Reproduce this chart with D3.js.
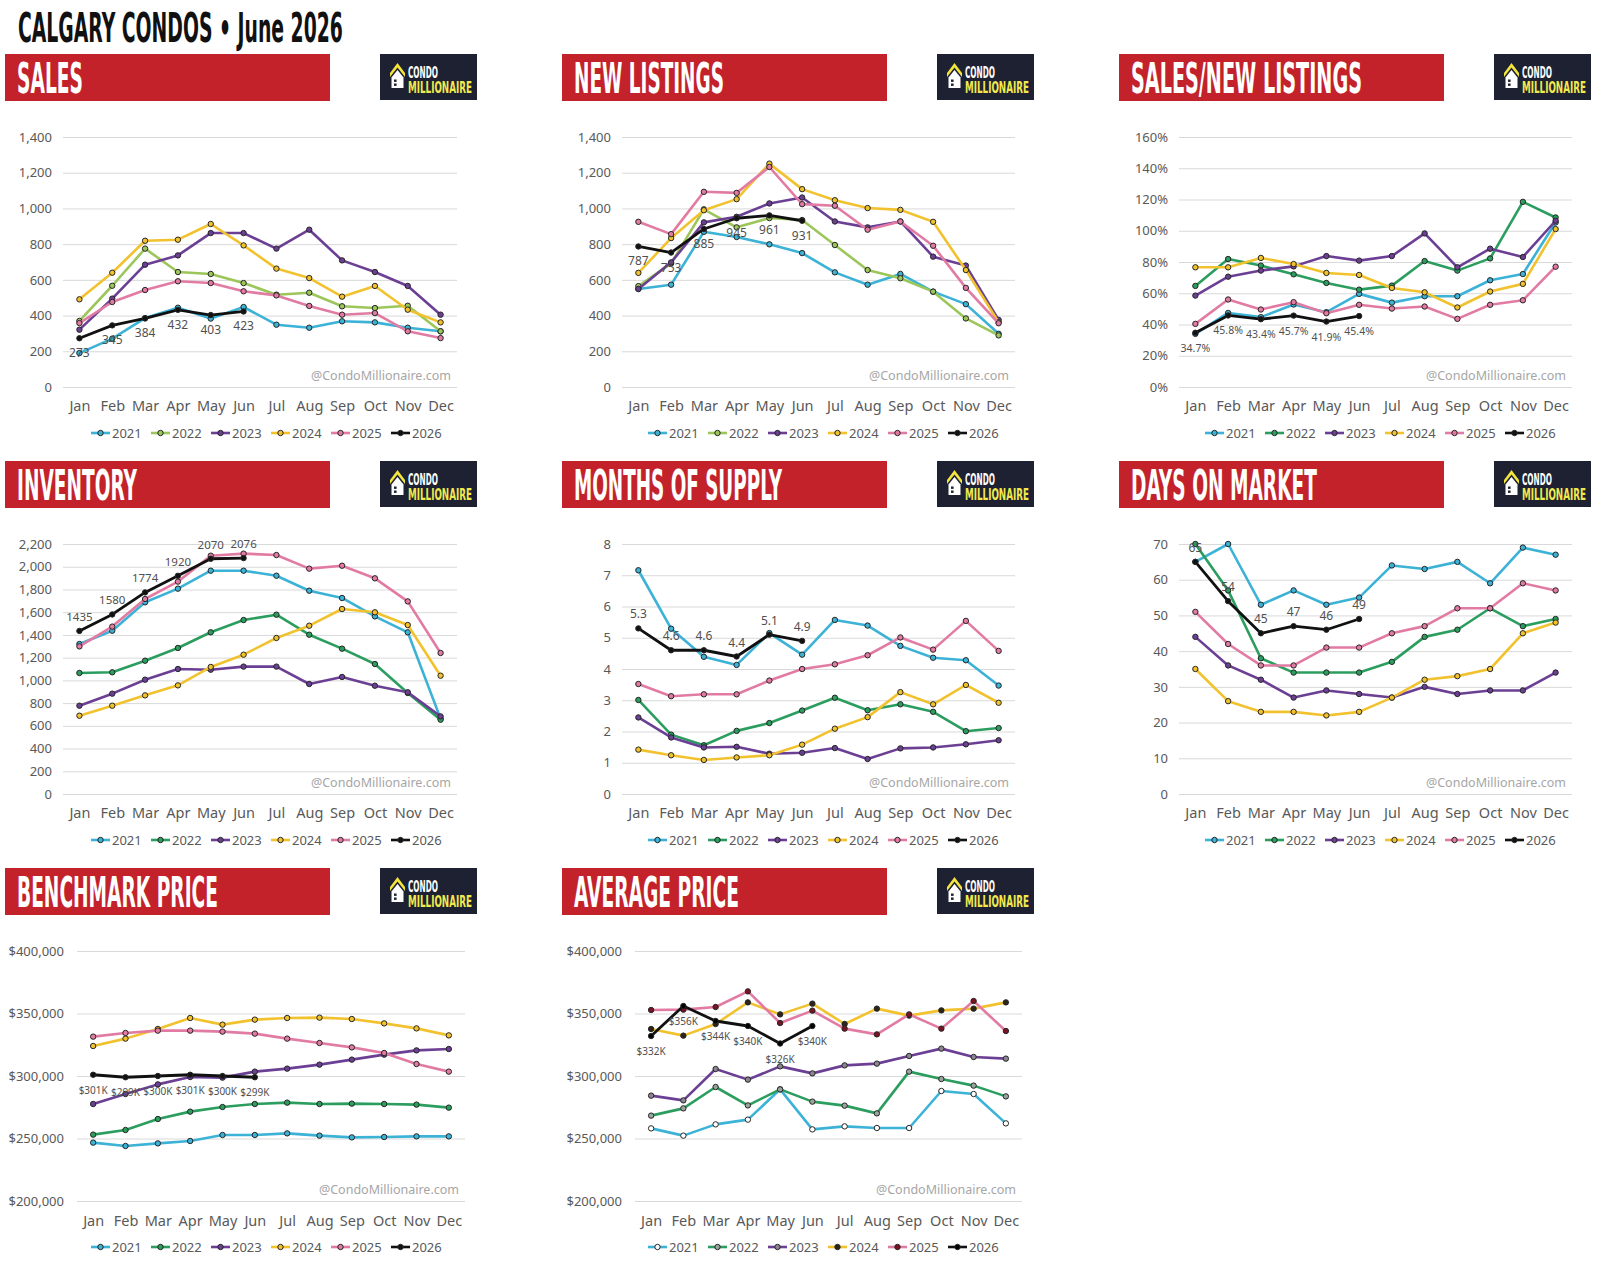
<!DOCTYPE html>
<html><head><meta charset="utf-8">
<script src="https://cdn.jsdelivr.net/npm/d3@7"></script>
<style>body{margin:0;background:#fff}svg{display:block}</style>
</head><body>
<svg id="c" width="1610" height="1281"></svg>
<script>
const months = ["Jan","Feb","Mar","Apr","May","Jun","Jul","Aug","Sep","Oct","Nov","Dec"];
const years = ["2021","2022","2023","2024","2025","2026"];

const salesSeries = [
  [190,271,386,444,383,448,349,332,368,362,332,312],
  [370,567,775,644,633,582,517,528,452,442,455,312],
  [321,495,685,737,862,862,775,881,709,644,566,405],
  [491,640,819,825,913,793,663,610,506,566,433,362],
  [358,476,543,592,582,536,513,454,405,414,312,274],
  [273,345,384,432,403,423]
];
const newListingsSeries = [
  [549,573,869,840,799,750,642,573,633,534,464,298],
  [565,692,995,894,946,935,795,655,609,534,384,289],
  [549,698,922,953,1028,1061,927,894,927,730,680,376],
  [639,834,990,1052,1251,1108,1046,1002,992,925,655,363],
  [925,856,1093,1087,1232,1024,1015,881,927,791,555,357],
  [787,753,885,945,961,931]
];
const salesToListingsSeries = [
  [34.0,47.4,44.7,52.8,47.9,59.6,54.0,58.1,58.1,68.3,72.3,105.3],
  [64.7,81.9,77.7,72.1,66.6,62.3,64.9,80.6,74.5,82.3,118.5,108.5],
  [58.5,70.6,74.5,77.2,83.8,80.9,83.8,98.3,76.6,88.5,83.2,106.4],
  [76.6,76.6,82.6,78.7,73.0,71.7,63.4,60.6,50.9,61.1,66.0,101.1],
  [40.4,56.0,49.6,54.3,47.2,52.6,50.2,51.5,43.6,52.6,55.5,77.0],
  [34.7,45.8,43.4,45.7,41.9,45.4]
];
const inventorySeries = [
  [1320,1437,1687,1807,1965,1965,1921,1789,1725,1563,1423,663],
  [1065,1071,1173,1285,1423,1531,1578,1402,1279,1144,889,654],
  [777,883,1006,1100,1094,1121,1121,968,1030,953,895,683],
  [689,777,868,956,1118,1226,1373,1481,1628,1599,1487,1041],
  [1299,1473,1716,1869,2097,2115,2103,1983,2009,1898,1695,1241],
  [1435,1580,1774,1920,2070,2076]
];
const monthsSupplySeries = [
  [7.16,5.29,4.39,4.13,5.15,4.46,5.57,5.39,4.74,4.36,4.28,3.47],
  [3.01,1.90,1.56,2.02,2.27,2.67,3.08,2.68,2.87,2.63,2.01,2.11],
  [2.45,1.81,1.49,1.51,1.29,1.32,1.47,1.12,1.46,1.49,1.59,1.72],
  [1.42,1.24,1.09,1.17,1.24,1.58,2.09,2.46,3.26,2.87,3.49,2.92],
  [3.52,3.13,3.19,3.19,3.63,4.00,4.15,4.44,5.01,4.62,5.54,4.58],
  [5.3,4.6,4.6,4.4,5.1,4.9]
];
const daysOnMarketSeries = [
  [65,70,53,57,53,55,64,63,65,59,69,67],
  [70,57,38,34,34,34,37,44,46,52,47,49],
  [44,36,32,27,29,28,27,30,28,29,29,34],
  [35,26,23,23,22,23,27,32,33,35,45,48],
  [51,42,36,36,41,41,45,47,52,52,59,57],
  [65,54,45,47,46,49]
];
const benchmarkSeries = [
  [246700,244000,246100,248000,252800,252800,254100,252300,250900,251200,251700,251700],
  [253100,256800,265600,271500,275200,277600,278700,277600,277900,277600,277100,274700],
  [277600,285600,293300,299200,298700,303500,305900,309100,313100,317100,320500,321600],
  [324000,329900,337600,346400,341100,345100,346400,346700,345600,342100,338100,332500],
  [331500,334400,336300,336300,335500,333900,329900,326400,322900,318400,309600,303500],
  [301000,299000,300000,301000,300000,299000]
];
const averagePriceSeries = [
  [258100,252300,261300,265100,289300,257300,259700,258400,258400,288000,285600,262100],
  [268300,274100,291200,276500,289300,279500,276300,270100,303500,297600,292300,283700],
  [284300,280500,305600,297100,307700,302100,308500,309900,316000,321900,315200,313900],
  [337600,332300,341600,358900,349300,357900,341600,353900,348300,352500,353900,358900],
  [352800,353100,355200,367700,342400,352300,337900,333300,349300,337900,360000,336000],
  [332000,356000,344000,340000,326000,340000]
];

const countTicks = [0,200,400,600,800,1000,1200,1400];
const ratioTicks = [0,20,40,60,80,100,120,140,160];
const inventoryTicks = [0,200,400,600,800,1000,1200,1400,1600,1800,2000,2200];
const supplyTicks = [0,1,2,3,4,5,6,7,8];
const domTicks = [0,10,20,30,40,50,60,70];
const priceTicks = [200000,250000,300000,350000,400000];

const headline = "CALGARY CONDOS • June 2026";
const watermark = "@CondoMillionaire.com";

// styles
const lineColors = ["#3bb2d6","#2b9d5e","#6b3f94","#f2c22e","#e27ba3","#111111"];
const lightGreen = "#9cc65a";
const condensed = "'Liberation Sans Narrow','DejaVu Sans Condensed','Roboto Condensed','Liberation Sans',sans-serif";
const bodyFont = "'Noto Sans','Open Sans',sans-serif";

const fmtComma = d3.format(",");
const panels = [
  {title:"SALES", tl:66, col:0,row:0, x0:63,x1:457, data:salesSeries, ticks:countTicks, tf:fmtComma, lf:d=>String(d), pos:"below", ls:12, lightGreen:true},
  {title:"NEW LISTINGS", tl:150, col:1,row:0, x0:622,x1:1015, data:newListingsSeries, ticks:countTicks, tf:fmtComma, lf:d=>String(d), pos:"below", ls:12, lightGreen:true},
  {title:"SALES/NEW LISTINGS", tl:231, col:2,row:0, x0:1179,x1:1572, data:salesToListingsSeries, ticks:ratioTicks, tf:d=>d+"%", lf:d=>d.toFixed(1)+"%", pos:"below", ls:10.5},
  {title:"INVENTORY", tl:120, col:0,row:1, x0:63,x1:457, data:inventorySeries, ticks:inventoryTicks, tf:fmtComma, lf:d=>String(d), pos:"above", ls:11.5},
  {title:"MONTHS OF SUPPLY", tl:208, col:1,row:1, x0:622,x1:1015, data:monthsSupplySeries, ticks:supplyTicks, tf:d=>String(d), lf:d=>d.toFixed(1), pos:"above", ls:12},
  {title:"DAYS ON MARKET", tl:186, col:2,row:1, x0:1179,x1:1572, data:daysOnMarketSeries, ticks:domTicks, tf:d=>String(d), lf:d=>String(d), pos:"above", ls:12},
  {title:"BENCHMARK PRICE", tl:201, col:0,row:2, x0:77,x1:465, data:benchmarkSeries, ticks:priceTicks, tf:d=>"$"+fmtComma(d), lf:d=>"$"+Math.round(d/1000)+"K", pos:"below", ls:10, small:true},
  {title:"AVERAGE PRICE", tl:165, col:1,row:2, x0:635,x1:1022, data:averagePriceSeries, ticks:priceTicks, tf:d=>"$"+fmtComma(d), lf:d=>"$"+Math.round(d/1000)+"K", pos:"below", ls:10, small:true, avgMarkers:true}
];
const avgMarkerFill = ["#ffffff","#9aa39c","#8a8590","#2b2418","#7a1222","#000000"];

const svg = d3.select("#c");

// condensed text: fitted to a target width with a horizontal scale transform
function fitText(parent, x, y, size, fill, width, str){
  const t = parent.append("text").attr("font-family",condensed).attr("font-weight",700)
    .attr("font-size",size).attr("fill",fill).text(str);
  const w = t.node().getComputedTextLength() || width;
  t.attr("transform",`translate(${x},${y}) scale(${width/w},1)`);
  return t;
}

fitText(svg, 18, 42, 41, "#111", 325, headline);

function drawLogo(g){
  g.append("rect").attr("width",97).attr("height",46).attr("fill","#1d2131");
  g.append("path").attr("d","M10 19 L17.5 9 L25 19 L25 23 L17.5 13.5 L10 23 Z").attr("fill","#f3e53c");
  g.append("path").attr("d","M11.5 23.5 L17.5 16 L23.5 23.5 L23.5 34 L11.5 34 Z").attr("fill","#ffffff");
  g.append("rect").attr("x",14).attr("y",25.5).attr("width",2.6).attr("height",2.4).attr("fill","#1d2131");
  g.append("rect").attr("x",14).attr("y",29.5).attr("width",2.6).attr("height",2.4).attr("fill","#1d2131");
  fitText(g, 28, 23.5, 15.5, "#ffffff", 30, "CONDO");
  fitText(g, 28, 38.5, 15.5, "#f2e94e", 64, "MILLIONAIRE");
}

panels.forEach(p=>{
  const bx = 5 + 557*p.col, by = 54 + 407*p.row;
  const top = 137 + 407*p.row, bottom = 387 + 407*p.row;
  // banner
  svg.append("rect").attr("x",bx).attr("y",by).attr("width",325).attr("height",47).attr("fill","#c3222b");
  fitText(svg, bx+12, by+39, 43, "#fff", p.tl, p.title);
  drawLogo(svg.append("g").attr("transform",`translate(${380+557*p.col},${by})`));

  const x = d3.scalePoint().domain(months).range([p.x0,p.x1]).padding(0.5);
  const y = d3.scaleLinear().domain([p.ticks[0], p.ticks[p.ticks.length-1]]).range([bottom, top]);

  const ga = svg.append("g").attr("transform",`translate(${p.x0},0)`)
    .call(d3.axisLeft(y).tickValues(p.ticks).tickSize(-(p.x1-p.x0)).tickPadding(p.small?13:11).tickFormat(p.tf));
  ga.select(".domain").remove();
  ga.selectAll(".tick line").attr("stroke","#d9d9d9").attr("stroke-width",1);
  ga.selectAll(".tick text").attr("fill","#595959").attr("font-family",bodyFont).attr("font-size",13);

  const gx = svg.append("g").attr("transform",`translate(0,${bottom})`)
    .call(d3.axisBottom(x).tickSize(0).tickPadding(p.small?15:14));
  gx.select(".domain").remove();
  gx.selectAll(".tick text").attr("fill","#595959").attr("font-family",bodyFont).attr("font-size",14.5);

  svg.append("text").attr("x",p.x1-6).attr("y",bottom-7).attr("text-anchor","end")
    .attr("font-family",bodyFont).attr("font-size",12.5).attr("fill","#a6a6a6").text(watermark);

  const line = d3.line().x((d,i)=>x(months[i])).y(d=>y(d));
  p.data.forEach((vals,i)=>{
    const col = (i===1 && p.lightGreen) ? lightGreen : lineColors[i];
    svg.append("path").datum(vals).attr("d",line).attr("fill","none")
      .attr("stroke",col).attr("stroke-width",i===5?2.8:2.6).attr("stroke-linejoin","round");
    const mf = p.avgMarkers ? avgMarkerFill[i] : col;
    svg.append("g").selectAll("circle").data(vals).join("circle")
      .attr("cx",(d,j)=>x(months[j])).attr("cy",d=>y(d)).attr("r",2.7)
      .attr("fill",mf).attr("stroke","#262626").attr("stroke-width",1);
  });
  // data labels for the latest year
  const last = p.data[5];
  svg.append("g").selectAll("text").data(last).join("text")
    .attr("x",(d,j)=>x(months[j])).attr("y",d=>y(d)+(p.pos==="below"?19:-10))
    .attr("text-anchor","middle").attr("font-family",bodyFont)
    .attr("font-size",p.ls).attr("fill","#505050")
    .text(d=>p.lf(d));

  // legend
  const ly = 433 + 407*p.row;
  const lg = svg.append("g");
  years.forEach((yr,i)=>{
    const lx = 91 + 557*p.col + 60*i;
    const col = (i===1 && p.lightGreen) ? lightGreen : lineColors[i];
    lg.append("line").attr("x1",lx).attr("x2",lx+19).attr("y1",ly).attr("y2",ly)
      .attr("stroke",col).attr("stroke-width",2.6);
    lg.append("circle").attr("cx",lx+9.5).attr("cy",ly).attr("r",2.7)
      .attr("fill",p.avgMarkers?avgMarkerFill[i]:col).attr("stroke","#262626").attr("stroke-width",1);
    lg.append("text").attr("x",lx+21).attr("y",ly+4.5).attr("font-family",bodyFont)
      .attr("font-size",13).attr("fill","#595959").text(yr);
  });
});
</script>
</body></html>
